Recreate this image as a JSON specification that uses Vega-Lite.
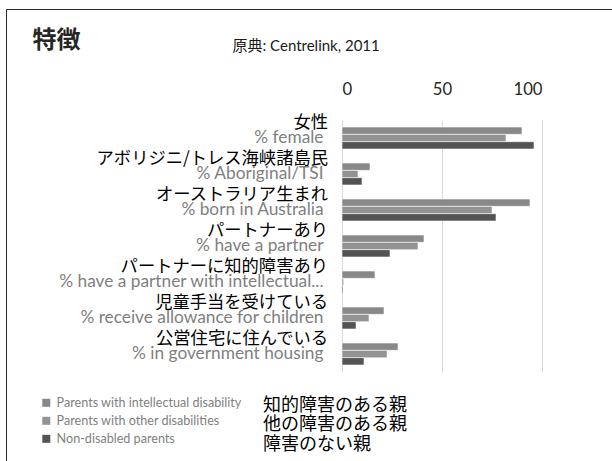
{
  "$schema": "https://vega.github.io/schema/vega-lite/v6.json",
  "width": 200,
  "height": 252,
  "autosize": {"type": "none"},
  "padding": {"left": 342, "top": 120, "right": 70, "bottom": 89},
  "background": "white",
  "config": {"view": {"stroke": null}, "font": "Lato, Noto Sans CJK JP"},
  "datasets": {
    "bars": [
      {"characteristic": "% female", "parent_group": "Parents with intellectual disability", "percent": 90},
      {"characteristic": "% female", "parent_group": "Parents with other disabilities", "percent": 82},
      {"characteristic": "% female", "parent_group": "Non-disabled parents", "percent": 96},
      {"characteristic": "% Aboriginal/TSI", "parent_group": "Parents with intellectual disability", "percent": 14},
      {"characteristic": "% Aboriginal/TSI", "parent_group": "Parents with other disabilities", "percent": 8},
      {"characteristic": "% Aboriginal/TSI", "parent_group": "Non-disabled parents", "percent": 10},
      {"characteristic": "% born in Australia", "parent_group": "Parents with intellectual disability", "percent": 94},
      {"characteristic": "% born in Australia", "parent_group": "Parents with other disabilities", "percent": 75},
      {"characteristic": "% born in Australia", "parent_group": "Non-disabled parents", "percent": 77},
      {"characteristic": "% have a partner", "parent_group": "Parents with intellectual disability", "percent": 41},
      {"characteristic": "% have a partner", "parent_group": "Parents with other disabilities", "percent": 38},
      {"characteristic": "% have a partner", "parent_group": "Non-disabled parents", "percent": 24},
      {"characteristic": "% have a partner with intellectual...", "parent_group": "Parents with intellectual disability", "percent": 16.5},
      {"characteristic": "% have a partner with intellectual...", "parent_group": "Parents with other disabilities", "percent": 0.8},
      {"characteristic": "% have a partner with intellectual...", "parent_group": "Non-disabled parents", "percent": 0.5},
      {"characteristic": "% receive allowance for children", "parent_group": "Parents with intellectual disability", "percent": 21},
      {"characteristic": "% receive allowance for children", "parent_group": "Parents with other disabilities", "percent": 13.5},
      {"characteristic": "% receive allowance for children", "parent_group": "Non-disabled parents", "percent": 7},
      {"characteristic": "% in government housing", "parent_group": "Parents with intellectual disability", "percent": 28},
      {"characteristic": "% in government housing", "parent_group": "Parents with other disabilities", "percent": 22.5},
      {"characteristic": "% in government housing", "parent_group": "Non-disabled parents", "percent": 11}
    ],
    "labels": [
      {"characteristic": "% female", "label_ja": "女性"},
      {"characteristic": "% Aboriginal/TSI", "label_ja": "アボリジニ/トレス海峡諸島民"},
      {"characteristic": "% born in Australia", "label_ja": "オーストラリア生まれ"},
      {"characteristic": "% have a partner", "label_ja": "パートナーあり"},
      {"characteristic": "% have a partner with intellectual...", "label_ja": "パートナーに知的障害あり"},
      {"characteristic": "% receive allowance for children", "label_ja": "児童手当を受けている"},
      {"characteristic": "% in government housing", "label_ja": "公営住宅に住んでいる"}
    ]
  },
  "layer": [
    {
      "data": {"name": "bars"},
      "mark": {"type": "bar", "stroke": "white", "strokeWidth": 0.6},
      "encoding": {
        "y": {
          "field": "characteristic",
          "type": "nominal",
          "title": "特徴",
          "sort": ["% female", "% Aboriginal/TSI", "% born in Australia", "% have a partner", "% have a partner with intellectual...", "% receive allowance for children", "% in government housing"],
          "scale": {"paddingInner": 0.39, "paddingOuter": 0.195},
          "axis": {
            "titleX": -310, "titleY": -80, "titleAngle": 0, "titleAlign": "left", "titleBaseline": "middle",
            "titleFontSize": 24, "titleFontWeight": "bold", "titleColor": "#262626", "titleFont": "Noto Sans CJK JP",
            "domain": false, "ticks": false, "tickSize": 0, "labelPadding": 19, "labelFontSize": 17.3,
            "labelColor": "#7f7f7f", "labelLimit": 400, "labelFont": "Lato"
          }
        },
        "x": {
          "field": "percent",
          "type": "quantitative",
          "title": "原典: Centrelink, 2011",
          "scale": {"domain": [0, 100], "nice": false},
          "axis": {
            "orient": "top", "values": [0, 50, 100], "domain": false, "ticks": false, "tickSize": 0,
            "labelPadding": 22, "labelFontSize": 16.7, "labelColor": "#262626", "labelFont": "Lato",
            "grid": true, "gridColor": "#d9d9d9",
            "titleX": -110, "titleY": -75, "titleAlign": "left", "titleBaseline": "middle",
            "titleFontSize": 15, "titleFontWeight": "normal", "titleColor": "#1a1a1a"
          }
        },
        "yOffset": {
          "field": "parent_group",
          "sort": ["Parents with intellectual disability", "Parents with other disabilities", "Non-disabled parents"],
          "scale": {"paddingInner": 0, "paddingOuter": 0}
        },
        "color": {
          "field": "parent_group",
          "type": "nominal",
          "sort": ["Parents with intellectual disability", "Parents with other disabilities", "Non-disabled parents"],
          "scale": {"range": ["#888888", "#939393", "#545454"]},
          "legend": {
            "orient": "none", "legendX": -302, "legendY": 276.5, "padding": 0,
            "symbolType": "square", "symbolSize": 64, "symbolStrokeWidth": 0,
            "labelFontSize": 12.6, "labelColor": "#7f7f7f", "labelFont": "Lato", "labelOffset": 4, "rowPadding": 5,
            "labelLimit": 300,
            "title": ["知的障害のある親", "他の障害のある親", "障害のない親"],
            "titleOrient": "right", "titleAngle": 0, "titleFontSize": 18, "titleLineHeight": 19.5,
            "titleFontWeight": "normal", "titleColor": "#000000", "titleFont": "Noto Sans CJK JP",
            "titleBaseline": "top", "titleAnchor": "start", "titlePadding": 21, "titleLimit": 400
          }
        },
        "strokeDash": {
          "field": "characteristic",
          "type": "nominal",
          "scale": {"range": [[1, 0]]},
          "legend": {
            "orient": "none", "legendX": -336, "legendY": -111, "padding": 1000,
            "strokeColor": "#2b2b2b", "title": null, "symbolOpacity": 0, "labelExpr": "''",
            "encode": {"legend": {"update": {"strokeWidth": {"value": 2.5}}}}
          }
        }
      }
    },
    {
      "data": {"name": "labels"},
      "mark": {"type": "text", "align": "right", "baseline": "middle", "dx": -14, "dy": -15, "fontSize": 17.3, "font": "Noto Sans CJK JP", "color": "#000000"},
      "encoding": {
        "y": {
          "field": "characteristic",
          "type": "nominal",
          "title": "特徴",
          "sort": ["% female", "% Aboriginal/TSI", "% born in Australia", "% have a partner", "% have a partner with intellectual...", "% receive allowance for children", "% in government housing"]
        },
        "x": {"datum": 0, "type": "quantitative", "title": "原典: Centrelink, 2011"},
        "text": {"field": "label_ja"}
      }
    }
  ]
}
